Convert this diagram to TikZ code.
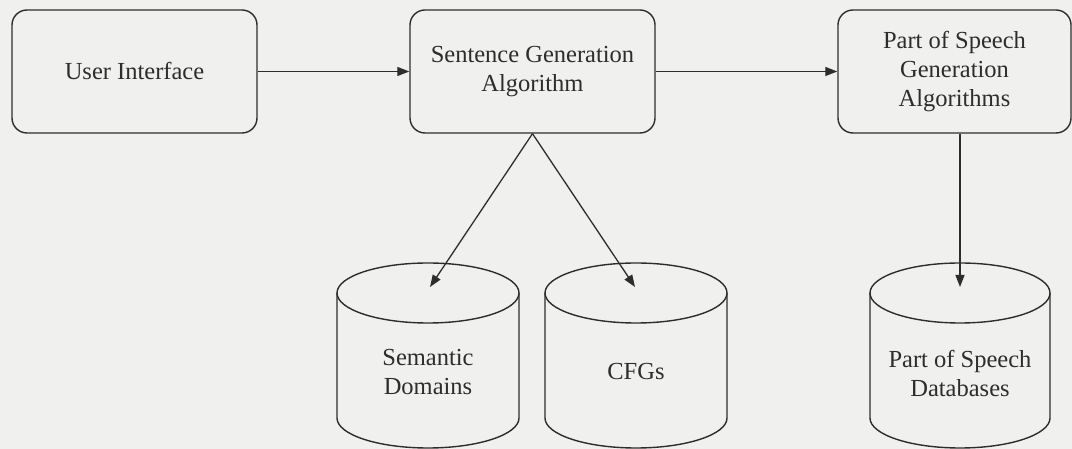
\documentclass[tikz,border=0pt]{standalone}
\usepackage{fontspec}
\setmainfont{Liberation Serif}
\usetikzlibrary{arrows.meta}
\definecolor{bg}{RGB}{240,240,238}
\definecolor{ink}{RGB}{45,45,45}
\begin{document}
\begin{tikzpicture}[x=1pt,y=1pt,
  txt/.style={align=center, text=ink, font=\fontsize{24.5}{29}\selectfont},
  box/.style={txt, draw=ink, line width=1.4pt, rounded corners=15pt, fill=bg, minimum height=123pt, inner sep=0pt},
  cyl/.style={draw=ink, line width=1.4pt},
  arr/.style={draw=ink, line width=1.3pt, -{Triangle[length=12pt,width=9pt]}}]
\fill[bg] (0,0) rectangle (1072,449);
\useasboundingbox (0,0) rectangle (1072,449);
% boxes
\node[box, minimum width=245pt] (ui) at (134.5,377.5) {User Interface};
\node[box, minimum width=245pt] (sga) at (532.5,377.5) {Sentence Generation\\Algorithm};
\node[box, minimum width=233pt] (pos) at (954.5,377.5) {Part of Speech\\Generation\\Algorithms};
% cylinders
\foreach \cx/\rx in {428/91, 636/91, 960/90}{
  \draw[cyl] (\cx-\rx,156) -- (\cx-\rx,31)
     arc[start angle=180, end angle=360, x radius=\rx pt, y radius=30pt]
     -- (\cx+\rx,156);
  \draw[cyl] (\cx,156) ellipse[x radius=\rx pt, y radius=30pt];
}
\node[txt] (semdb) at (428,77) {Semantic\\Domains};
\node[txt] (cfgdb) at (636,77) {CFGs};
\node[txt] (posdb) at (960,76) {Part of Speech\\Databases};
\coordinate (semtop) at (430,162);
\coordinate (cfgtop) at (635,162);
\coordinate (postop) at (960,162);
% connectors
\draw[arr] (ui.east) -- (sga.west);
\draw[arr] (sga.east) -- (pos.west);
\draw[arr] (sga.south) -- (semtop);
\draw[arr] (sga.south) -- (cfgtop);
\draw[arr] (postop |- pos.south) -- (postop);
\end{tikzpicture}
\end{document}
